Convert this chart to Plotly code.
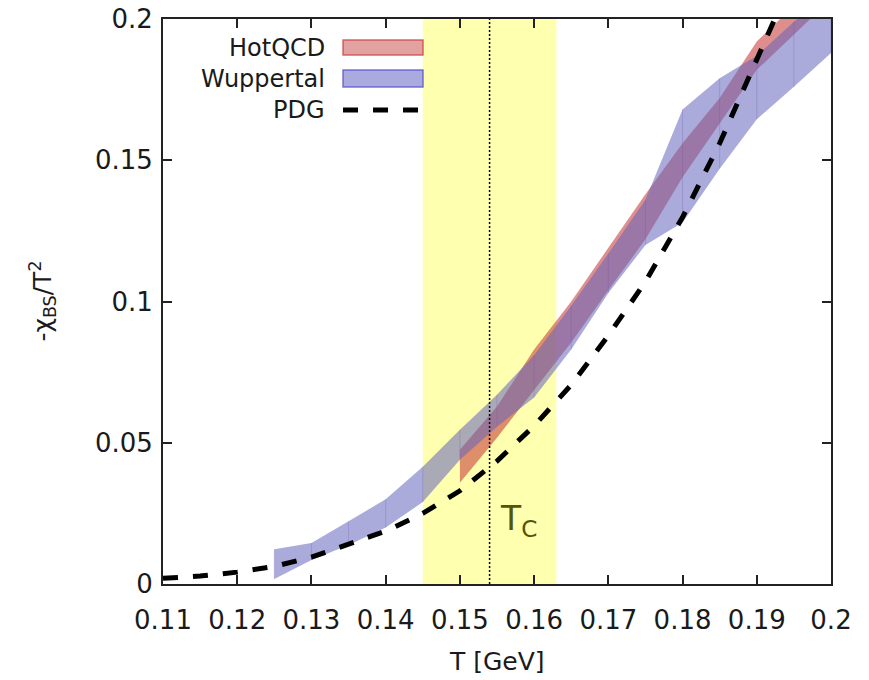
import plotly.graph_objects as go

# ---------------- data ----------------
T_pdg = [0.11, 0.115, 0.12, 0.125, 0.13, 0.135, 0.14, 0.145, 0.15, 0.155, 0.16,
         0.165, 0.17, 0.175, 0.18, 0.185, 0.19, 0.195, 0.2]
chi_pdg = [0.0020, 0.0028, 0.0042, 0.0062, 0.0095, 0.0140, 0.0187, 0.0250, 0.0330,
           0.0435, 0.0560, 0.0705, 0.0880, 0.1070, 0.1298, 0.1560, 0.1860, 0.2150, 0.2450]

T_wup = [0.125, 0.13, 0.135, 0.14, 0.145, 0.15, 0.155, 0.16, 0.165, 0.17,
         0.175, 0.18, 0.185, 0.19, 0.195, 0.2]
wup_upper = [0.0123, 0.0145, 0.0222, 0.0300, 0.0415, 0.0546, 0.0670, 0.0810, 0.0985,
             0.1170, 0.1360, 0.1680, 0.1790, 0.1870, 0.1990, 0.2100]
wup_lower = [0.0018, 0.0085, 0.0138, 0.0200, 0.0290, 0.0440, 0.0557, 0.0660, 0.0830,
             0.1030, 0.1200, 0.1280, 0.1470, 0.1645, 0.1760, 0.1880]

T_hot = [0.15, 0.155, 0.16, 0.165, 0.17, 0.175, 0.18, 0.185, 0.19, 0.195, 0.2]
hot_upper = [0.0475, 0.0628, 0.0830, 0.1000, 0.1190, 0.1380, 0.1560, 0.1720, 0.1920,
             0.2045, 0.2175]
hot_lower = [0.0358, 0.0518, 0.0688, 0.0855, 0.1040, 0.1220, 0.1440, 0.1630, 0.1820,
             0.1945, 0.2070]

Tc = 0.154
Tc_band = [0.145, 0.163]

x_ticks = [0.11, 0.12, 0.13, 0.14, 0.15, 0.16, 0.17, 0.18, 0.19, 0.2]
x_ticktext = ["0.11", "0.12", "0.13", "0.14", "0.15", "0.16", "0.17", "0.18", "0.19", "0.2"]
y_ticks = [0, 0.05, 0.1, 0.15, 0.2]
y_ticktext = ["0", "0.05", "0.1", "0.15", "0.2"]

legend_names = ["HotQCD", "Wuppertal", "PDG"]
x_title = "T [GeV]"
y_title = "-χ<sub>BS</sub>/T<sup>2</sup>"

# ---------------- styles ----------------
FONT = "DejaVu Sans"
RED_FILL = "rgba(195,50,45,0.55)"
BLUE_FILL = "rgba(100,100,190,0.55)"
YELLOW = "rgb(255,255,176)"
TXT = "#1a1a1a"

fig = go.Figure()

# HotQCD band
fig.add_trace(go.Scatter(
    x=T_hot + T_hot[::-1], y=hot_upper + hot_lower[::-1],
    fill="toself", fillcolor=RED_FILL, mode="lines", line=dict(width=0),
    hoverinfo="skip", showlegend=False))

# Wuppertal band
fig.add_trace(go.Scatter(
    x=T_wup + T_wup[::-1], y=wup_upper + wup_lower[::-1],
    fill="toself", fillcolor=BLUE_FILL, mode="lines", line=dict(width=0),
    hoverinfo="skip", showlegend=False))

# faint seams at sample points (as in the original rendering)
sx, sy = [], []
for t, u, l in zip(T_wup, wup_upper, wup_lower):
    sx += [t, t, None]
    sy += [l, u, None]
fig.add_trace(go.Scatter(x=sx, y=sy, mode="lines",
                         line=dict(color="rgba(110,80,170,0.25)", width=1),
                         hoverinfo="skip", showlegend=False))

# PDG dashed
fig.add_trace(go.Scatter(
    x=T_pdg, y=chi_pdg, mode="lines",
    line=dict(color="black", width=5, dash="15px,15px"),
    hoverinfo="skip", showlegend=False))

shapes = []
# yellow Tc band
shapes.append(dict(type="rect", xref="x", yref="paper", x0=Tc_band[0], x1=Tc_band[1],
                   y0=0, y1=1, fillcolor=YELLOW, line=dict(width=0), layer="below"))
# Tc dotted line
shapes.append(dict(type="line", xref="x", yref="paper", x0=Tc, x1=Tc, y0=0, y1=1,
                   line=dict(color="black", width=1.5, dash="2px,2px"), layer="above"))

# legend (gnuplot style, drawn manually)
lx0, lx1 = 0.2695, 0.3892
shapes.append(dict(type="rect", xref="paper", yref="paper", x0=lx0, x1=lx1,
                   y0=0.9363, y1=0.9628, fillcolor="rgba(200,70,70,0.5)",
                   line=dict(color="rgba(200,70,70,0.8)", width=1.5)))
shapes.append(dict(type="rect", xref="paper", yref="paper", x0=lx0, x1=lx1,
                   y0=0.8796, y1=0.9097, fillcolor="rgba(85,85,190,0.5)",
                   line=dict(color="rgba(85,85,200,0.8)", width=1.5)))
shapes.append(dict(type="line", xref="paper", yref="paper", x0=lx0, x1=0.383,
                   y0=0.839, y1=0.839,
                   line=dict(color="black", width=5, dash="15px,15px")))

annotations = []
for name, yy in zip(legend_names, [0.9495, 0.8946, 0.839]):
    annotations.append(dict(text=name, xref="paper", yref="paper", x=0.2455, y=yy,
                            xanchor="right", yanchor="middle", showarrow=False,
                            font=dict(family=FONT, size=24, color=TXT)))
annotations.append(dict(text="T<sub>C</sub>", xref="x", yref="y", x=0.1551, y=0.0225,
                        xanchor="left", yanchor="middle", showarrow=False,
                        font=dict(family=FONT, size=33, color="#55550a")))
# axis titles
annotations.append(dict(text=x_title, xref="paper", yref="paper", x=0.5, y=-0.138,
                        xanchor="center", yanchor="middle", showarrow=False,
                        font=dict(family=FONT, size=25, color=TXT)))
annotations.append(dict(text=y_title, xref="paper", yref="paper", x=-0.181, y=0.5,
                        xanchor="center", yanchor="middle", showarrow=False, textangle=-90,
                        font=dict(family=FONT, size=25, color=TXT)))

fig.update_layout(
    width=869, height=680,
    margin=dict(l=163, r=38, t=19, b=96),
    paper_bgcolor="white", plot_bgcolor="white",
    font=dict(family=FONT, size=24, color=TXT),
    shapes=shapes, annotations=annotations,
    showlegend=False,
)
fig.update_xaxes(
    range=[0.11, 0.2], tickmode="array", tickvals=x_ticks, ticktext=x_ticktext,
    ticks="inside", ticklen=9, tickwidth=1.5, tickcolor="#222",
    showline=True, linecolor="#222", linewidth=2, mirror="ticks",
    showgrid=False, zeroline=False, automargin=False, ticklabelstandoff=12,
    ticklabeloverflow="allow",
    tickfont=dict(family=FONT, size=26, color=TXT),
)
fig.update_yaxes(
    range=[0, 0.2], tickmode="array", tickvals=y_ticks, ticktext=y_ticktext,
    ticks="inside", ticklen=9, tickwidth=1.5, tickcolor="#222",
    showline=True, linecolor="#222", linewidth=2, mirror="ticks",
    showgrid=False, zeroline=False, automargin=False, ticklabelstandoff=3,
    ticklabeloverflow="allow",
    tickfont=dict(family=FONT, size=26, color=TXT),
)

fig.write_html("out.html",
               config={"displayModeBar": False},
               post_script="document.body.style.margin='0px';document.body.style.padding='0px';")
